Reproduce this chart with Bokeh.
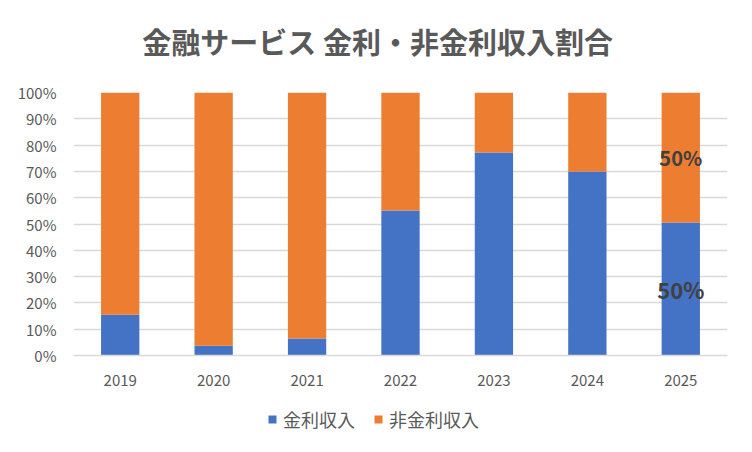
from bokeh.plotting import figure
from bokeh.layouts import column
from bokeh.models import (ColumnDataSource, FactorRange, Range1d, NumeralTickFormatter,
                          Legend, LegendItem, FixedTicker)
from bokeh.embed import file_html
from bokeh.resources import INLINE
from bokeh.core.properties import value

years = ["2019", "2020", "2021", "2022", "2023", "2024", "2025"]
interest = [0.155, 0.037, 0.065, 0.551, 0.772, 0.700, 0.506]
non_interest = [round(1 - v, 3) for v in interest]
series_names = ["金利収入", "非金利収入"]
series_colors = ["#4472C4", "#ED7D31"]
label_years = ["2025", "2025"]
label_texts = ["50%", "50%"]
title_text = "金融サービス 金利・非金利収入割合"

TXT = "#595959"
JP = "Noto Sans CJK JP"


def strip(h, x_range):
    f = figure(width=752, height=h, x_range=x_range, y_range=Range1d(0, 1),
               output_backend="svg", toolbar_location=None,
               x_axis_location=None, y_axis_location=None,
               min_border_left=73, min_border_right=25, min_border_top=0, min_border_bottom=0)
    f.outline_line_color = None
    f.grid.visible = False
    return f


# title strip
pt = strip(64, Range1d(0, 1))
pt.text(x=[0.465], y=[0.375], text=[title_text], text_align="center", text_baseline="middle",
        text_font=value(JP), text_font_size="29px", text_font_style="bold", text_color=TXT)

# main chart
src = ColumnDataSource(dict(year=years, interest=interest, non_interest=non_interest))

p = figure(width=752, height=336, x_range=FactorRange(*years, range_padding=0),
           y_range=Range1d(0, 1), output_backend="svg", toolbar_location=None,
           min_border_left=73, min_border_right=25, min_border_top=28, min_border_bottom=45)
p.outline_line_color = None
p.background_fill_color = "white"

r = p.vbar_stack(["interest", "non_interest"], x="year", width=0.41, source=src,
                 color=series_colors, line_color=None)

# data labels (2025)
lab_y = [interest[-1] / 2, interest[-1] + non_interest[-1] / 2]
lsrc = ColumnDataSource(dict(x=label_years, y=lab_y, t=label_texts, s=["22px", "20px"]))
p.text(x="x", y="y", text="t", source=lsrc, text_align="center", text_baseline="middle",
       text_font=value(JP), text_font_size="s", text_font_style="bold", text_color="#404040")

p.yaxis.ticker = FixedTicker(ticks=[i / 10 for i in range(11)])
p.yaxis.formatter = NumeralTickFormatter(format="0%")
p.yaxis.axis_line_color = None
p.yaxis.major_tick_line_color = None
p.yaxis.minor_tick_line_color = None
p.yaxis.major_label_text_font = JP
p.yaxis.major_label_text_font_size = "15px"
p.yaxis.major_label_text_color = TXT
p.yaxis.major_label_standoff = 11

p.xaxis.axis_line_color = "#D9D9D9"
p.xaxis.axis_line_width = 1.3
p.xaxis.major_tick_line_color = None
p.xaxis.minor_tick_line_color = None
p.xaxis.major_label_text_font = JP
p.xaxis.major_label_text_font_size = "15px"
p.xaxis.major_label_text_color = TXT
p.xaxis.major_label_standoff = 13

p.xgrid.grid_line_color = None
p.ygrid.grid_line_color = "#D9D9D9"
p.ygrid.grid_line_width = 1.3

# legend strip below the chart (zero-height proxy bars carry the legend swatches)
pl = strip(52, FactorRange(*series_names))
lr = [pl.vbar(x=[series_names[i]], top=[0], width=0.1, fill_color=series_colors[i],
              line_color=None) for i in range(2)]

legend = Legend(items=[LegendItem(label=series_names[i], renderers=[lr[i]]) for i in range(2)],
                orientation="horizontal", location=(194, 20),
                label_text_font=JP, label_text_font_size="18px", label_text_color=TXT,
                glyph_width=10, glyph_height=10, spacing=18, label_standoff=6,
                border_line_color=None, background_fill_alpha=0, margin=0, padding=4)
pl.add_layout(legend, "center")

layout = column(pt, p, pl, spacing=0)
open("out.html", "w").write(file_html(layout, INLINE))
